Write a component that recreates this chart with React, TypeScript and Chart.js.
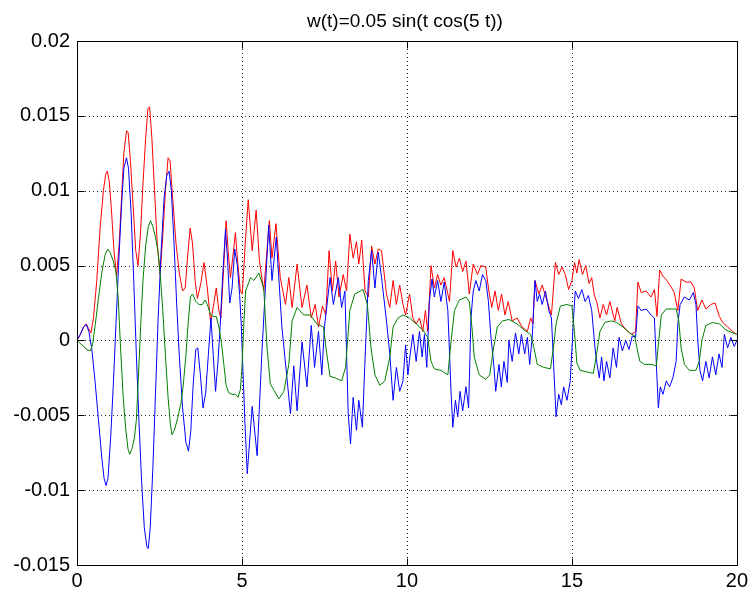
import React, { useEffect, useRef } from 'react';
import { Chart, registerables } from 'chart.js';

Chart.register(...registerables);

const TITLE = 'w(t)=0.05 sin(t cos(5 t))';
const X_TICKS = [0, 5, 10, 15, 20];
const Y_TICKS = [-0.015, -0.01, -0.005, 0, 0.005, 0.01, 0.015, 0.02];
const UNIT = 0.001; // values below are in thousandths

const redT = [0, 0.1, 0.2, 0.28, 0.35, 0.42, 0.5, 0.6, 0.7, 0.8, 0.87, 0.92, 0.98, 1.05, 1.12, 1.2, 1.28, 1.35, 1.42, 1.5, 1.55, 1.62, 1.7, 1.78, 1.85, 1.92, 2.0, 2.08, 2.15, 2.2, 2.27, 2.35, 2.43, 2.52, 2.6, 2.68, 2.76, 2.82, 2.9, 3.0, 3.1, 3.2, 3.28, 3.35, 3.43, 3.5, 3.58, 3.65, 3.75, 3.85, 3.95, 4.05, 4.15, 4.22, 4.3, 4.36, 4.45, 4.52, 4.58, 4.65, 4.72, 4.8, 4.88, 4.95, 5.01, 5.1, 5.19, 5.31, 5.43, 5.53, 5.66, 5.83, 5.91, 6.03, 6.16, 6.32, 6.42, 6.52, 6.67, 6.82, 6.97, 7.1, 7.22, 7.32, 7.44, 7.54, 7.64, 7.74, 7.84, 7.94, 8.07, 8.17, 8.27, 8.37, 8.47, 8.54, 8.63, 8.73, 8.83, 8.93, 9.03, 9.13, 9.23, 9.38, 9.48, 9.58, 9.68, 9.78, 9.88, 9.96, 10.08, 10.18, 10.28, 10.38, 10.48, 10.56, 10.63, 10.73, 10.83, 10.93, 11.03, 11.13, 11.29, 11.39, 11.49, 11.59, 11.69, 11.79, 11.89, 12.01, 12.14, 12.24, 12.39, 12.47, 12.57, 12.67, 12.77, 12.87, 12.97, 13.07, 13.19, 13.34, 13.49, 13.65, 13.75, 13.82, 13.88, 14.0, 14.1, 14.25, 14.38, 14.5, 14.6, 14.7, 14.8, 14.9, 15.0, 15.08, 15.15, 15.22, 15.32, 15.42, 15.52, 15.6, 15.68, 15.75, 15.85, 15.95, 16.05, 16.15, 16.3, 16.37, 16.5, 16.65, 16.8, 16.93, 17.0, 17.1, 17.25, 17.4, 17.5, 17.58, 17.66, 17.76, 17.88, 18.0, 18.1, 18.21, 18.31, 18.46, 18.61, 18.71, 18.81, 18.94, 19.06, 19.21, 19.34, 19.47, 19.57, 19.72, 19.87, 20.0];
const redV = [0, 0.4, 0.9, 1.1, 0.8, 0.5, 1.5, 4.0, 7.5, 10.0, 11.1, 11.3, 10.6, 8.5, 6.0, 4.3, 6.5, 9.5, 12.5, 14.0, 13.9, 12.0, 9.0, 6.0, 5.0, 7.0, 10.5, 13.5, 15.5, 15.6, 13.5, 10.0, 6.5, 4.4, 7.0, 10.0, 12.2, 12.0, 9.5, 6.5, 4.5, 3.3, 3.5, 5.5, 7.5, 6.5, 4.0, 2.8, 3.8, 5.2, 3.5, 1.2, 2.5, 3.5, 2.0, 1.5, 5.0, 8.0, 6.0, 4.2, 5.5, 7.2, 5.0, 3.3, 3.1, 6.5, 9.4, 6.0, 8.7, 5.3, 3.3, 8.0, 5.5, 7.8, 4.2, 2.4, 4.2, 2.2, 5.1, 2.2, 3.7, 1.5, 2.4, 0.9, 2.3, 1.7, 6.0, 3.3, 5.3, 2.9, 4.4, 3.3, 7.1, 5.5, 6.6, 5.1, 6.7, 3.3, 2.9, 6.3, 5.1, 6.1, 6.0, 3.1, 2.2, 4.0, 2.4, 3.7, 2.4, 1.7, 3.1, 1.5, 1.1, 1.5, 0.6, 2.0, 0.6, 5.0, 3.5, 4.4, 3.7, 4.2, 2.6, 6.0, 4.9, 5.5, 4.6, 5.3, 3.1, 5.1, 4.4, 5.0, 4.9, 3.5, 2.2, 3.3, 2.0, 3.1, 1.7, 2.6, 1.3, 1.5, 0.9, 0.6, 1.5, 1.1, 4.0, 3.1, 3.7, 2.6, 1.7, 5.2, 4.4, 4.9, 4.4, 3.4, 4.0, 5.2, 4.5, 5.4, 4.4, 5.0, 3.8, 4.2, 3.0, 2.6, 1.5, 2.4, 1.7, 2.6, 1.3, 2.2, 1.1, 0.7, 0.4, 0.6, 3.9, 3.2, 3.3, 2.9, 3.4, 1.6, 4.7, 4.3, 4.0, 3.6, 3.2, 2.0, 4.1, 3.9, 3.9, 3.5, 2.0, 2.7, 2.1, 2.4, 2.5, 1.6, 1.2, 0.9, 0.6, 0.4];

const blueT = [0, 0.1, 0.2, 0.28, 0.36, 0.45, 0.55, 0.65, 0.75, 0.82, 0.88, 0.94, 1.02, 1.1, 1.18, 1.26, 1.35, 1.42, 1.5, 1.56, 1.64, 1.72, 1.8, 1.88, 1.96, 2.04, 2.12, 2.16, 2.22, 2.3, 2.38, 2.46, 2.55, 2.64, 2.72, 2.79, 2.86, 2.94, 3.02, 3.1, 3.2, 3.3, 3.38, 3.45, 3.52, 3.6, 3.66, 3.74, 3.82, 3.9, 3.98, 4.06, 4.13, 4.2, 4.27, 4.34, 4.42, 4.5, 4.56, 4.63, 4.7, 4.78, 4.86, 4.93, 4.98, 5.02, 5.09, 5.16, 5.31, 5.46, 5.6, 5.81, 5.91, 6.04, 6.21, 6.47, 6.57, 6.67, 6.82, 6.97, 7.1, 7.2, 7.32, 7.42, 7.5, 7.67, 7.77, 7.92, 8.02, 8.12, 8.22, 8.29, 8.37, 8.47, 8.54, 8.65, 8.72, 8.83, 8.93, 9.03, 9.13, 9.23, 9.38, 9.48, 9.58, 9.68, 9.78, 9.88, 9.96, 10.03, 10.1, 10.18, 10.28, 10.38, 10.46, 10.53, 10.6, 10.68, 10.76, 10.83, 10.93, 11.03, 11.13, 11.24, 11.34, 11.39, 11.47, 11.54, 11.61, 11.69, 11.79, 11.87, 11.94, 12.01, 12.09, 12.19, 12.29, 12.39, 12.47, 12.54, 12.64, 12.69, 12.79, 12.86, 12.94, 13.04, 13.09, 13.19, 13.29, 13.39, 13.47, 13.57, 13.65, 13.72, 13.8, 13.88, 13.95, 14.02, 14.1, 14.2, 14.3, 14.38, 14.45, 14.52, 14.6, 14.68, 14.75, 14.85, 14.95, 15.05, 15.1, 15.2, 15.3, 15.4, 15.5, 15.6, 15.7, 15.75, 15.83, 15.9, 15.97, 16.05, 16.15, 16.25, 16.35, 16.43, 16.53, 16.63, 16.73, 16.83, 16.93, 17.0, 17.1, 17.25, 17.4, 17.5, 17.56, 17.62, 17.68, 17.76, 17.86, 17.96, 18.06, 18.16, 18.21, 18.28, 18.41, 18.56, 18.68, 18.76, 18.81, 18.88, 18.96, 19.06, 19.16, 19.26, 19.36, 19.46, 19.55, 19.62, 19.72, 19.82, 19.92, 20.0];
const blueV = [0, 0.4, 0.9, 1.07, 0.6, -0.6, -2.8, -5.3, -7.8, -9.2, -9.7, -9.2, -6.5, -3.0, 1.0, 5.0, 9.0, 11.5, 12.2, 11.5, 8.5, 4.0, -1.0, -5.5, -9.5, -12.5, -13.8, -13.9, -12.5, -8.5, -3.5, 1.5, 6.0, 9.5, 11.0, 11.3, 10.0, 6.5, 2.5, -1.0, -4.5, -6.8, -7.4, -6.0, -3.0, -0.6, -0.5, -2.3, -4.5, -3.5, -1.0, 1.5, -1.0, -3.4, -1.5, 1.0, 4.5, 7.4, 5.5, 2.5, 3.5, 6.1, 5.0, 3.0, 1.0, -1.5, -5.5, -8.9, -4.4, -7.7, -1.0, 7.7, 4.0, 6.9, 0.9, -4.9, -1.7, -4.7, -0.1, -3.1, 1.0, -1.8, 0.6, -2.3, 0.9, 4.2, 2.4, 4.2, 2.2, 3.3, -4.9, -6.9, -3.8, -6.0, -4.0, -5.8, -1.8, 4.0, 6.0, 3.5, 5.9, 4.2, 1.3, -0.9, -4.0, -1.8, -3.4, -2.7, -0.3, -2.3, -0.9, 0.4, -1.4, 0.6, -1.1, 0.4, -1.8, 2.6, 4.1, 2.9, 4.0, 2.6, 3.9, 2.0, -3.6, -5.8, -4.0, -5.1, -3.4, -4.7, -3.1, -4.5, 1.5, 3.3, 4.0, 3.3, 4.4, 4.0, 2.6, 0.4, -1.8, -3.4, -1.6, -3.1, -1.4, -2.8, 0, -1.4, 0.5, -0.9, 0.4, -0.9, 0.2, -1.6, 0.3, 4.0, 2.6, 3.1, 2.4, 3.3, 2.0, 1.5, -1.8, -5.1, -3.6, -4.3, -3.1, -4.0, -2.7, 1.5, 3.3, 2.8, 3.4, 2.6, 3.0, 2.0, -0.5, -1.4, -2.5, -1.1, -2.7, -1.4, -2.5, -0.5, -1.8, 0.2, -0.7, 0, -0.6, 0.3, 0.2, 2.3, 2.0, 2.1, 1.7, 1.5, -1.6, -4.5, -3.1, -3.6, -2.7, -3.1, -2.5, -1.4, 1.1, 2.4, 2.9, 2.7, 3.2, 2.4, 0.2, -2.0, -2.7, -1.4, -2.5, -1.1, -2.3, -0.9, -1.8, 0.4, -0.5, 0.2, -0.4, 0];

const greenT = [0, 0.15, 0.3, 0.4, 0.47, 0.55, 0.65, 0.75, 0.85, 0.93, 1.0, 1.1, 1.18, 1.25, 1.32, 1.4, 1.48, 1.55, 1.6, 1.67, 1.74, 1.8, 1.86, 1.93, 2.0, 2.08, 2.16, 2.23, 2.3, 2.38, 2.45, 2.52, 2.6, 2.68, 2.76, 2.83, 2.88, 2.95, 3.05, 3.15, 3.22, 3.3, 3.37, 3.44, 3.5, 3.6, 3.7, 3.8, 3.88, 3.95, 4.05, 4.15, 4.22, 4.3, 4.38, 4.45, 4.52, 4.6, 4.7, 4.8, 4.88, 4.95, 5.0, 5.05, 5.11, 5.26, 5.36, 5.51, 5.66, 5.76, 5.86, 5.96, 6.12, 6.27, 6.42, 6.52, 6.67, 6.87, 7.07, 7.27, 7.47, 7.57, 7.67, 7.82, 8.02, 8.14, 8.27, 8.42, 8.67, 8.8, 8.91, 9.03, 9.18, 9.33, 9.48, 9.58, 9.73, 9.88, 10.08, 10.28, 10.48, 10.63, 10.73, 10.83, 11.03, 11.24, 11.34, 11.44, 11.59, 11.79, 11.89, 11.97, 12.04, 12.19, 12.39, 12.51, 12.61, 12.74, 12.89, 13.09, 13.34, 13.55, 13.75, 13.85, 13.95, 14.15, 14.35, 14.45, 14.52, 14.65, 14.85, 15.0, 15.08, 15.15, 15.25, 15.45, 15.65, 15.75, 15.85, 16.0, 16.2, 16.35, 16.55, 16.75, 16.9, 16.97, 17.06, 17.2, 17.4, 17.56, 17.61, 17.71, 17.86, 18.06, 18.16, 18.24, 18.31, 18.41, 18.56, 18.76, 18.86, 18.94, 19.06, 19.26, 19.47, 19.67, 20.0];
const greenV = [0, -0.3, -0.6, -0.7, -0.3, 1.0, 2.8, 4.5, 5.7, 6.1, 5.9, 5.3, 4.6, 2.8, -0.5, -3.8, -6.0, -7.3, -7.6, -7.2, -6.5, -5.3, -2.5, 1.0, 4.0, 6.3, 7.6, 8.0, 7.6, 6.9, 6.0, 4.5, 2.0, -1.0, -3.8, -5.6, -6.3, -6.0, -5.2, -4.2, -3.0, -1.0, 1.2, 2.9, 3.1, 2.6, 2.4, 2.4, 2.7, 2.4, 1.7, 1.6, 1.6, 0.9, -0.2, -1.6, -3.0, -3.5, -3.6, -3.6, -3.8, -3.3, -1.8, 0.8, 3.3, 4.2, 4.0, 4.5, 3.5, -0.5, -2.9, -3.3, -3.9, -3.4, -1.6, 1.3, 2.2, 1.7, 1.7, 1.1, 0.9, -0.9, -2.4, -2.5, -2.7, -1.8, 2.0, 3.1, 3.4, 2.4, -0.5, -2.3, -3.0, -2.7, -1.1, 0.9, 1.5, 1.7, 1.5, 1.1, 0.7, 0.2, -1.4, -1.9, -2.0, -2.3, 0, 2.0, 2.7, 2.9, 2.6, 0.9, -1.1, -2.3, -2.6, -2.3, -0.7, 0.9, 1.3, 1.4, 1.1, 0.7, 0.4, -0.5, -1.6, -1.8, -1.9, -0.3, 1.1, 2.3, 2.4, 2.3, 0.5, -1.5, -2.0, -2.1, -2.2, -0.9, 0.6, 1.2, 1.3, 1.2, 0.9, 0.5, 0.3, -0.5, -1.4, -1.6, -1.6, -1.7, -0.5, 1.7, 2.1, 2.1, 2.1, 1.3, -0.5, -1.6, -2.0, -2.0, -1.4, 0, 1.0, 1.2, 1.1, 0.7, 0.4];

const FONT = '"Liberation Sans", Arial, Helvetica, sans-serif';

const toPoints = (ts: number[], vs: number[]) => ts.map((t, i) => ({ x: t, y: vs[i] * UNIT }));
const fmt = (v: number) => String(Number(Number(v).toFixed(4)));

const matlabAxes = {
  id: 'matlabAxes',
  beforeDatasetsDraw(chart: any) {
    const { ctx, chartArea: a, scales } = chart;
    ctx.save();
    ctx.strokeStyle = '#222';
    ctx.lineWidth = 1;
    ctx.setLineDash([1, 3]);
    for (const v of X_TICKS) {
      const px = Math.round(scales.x.getPixelForValue(v)) + 0.5;
      if (px <= a.left + 1 || px >= a.right - 1) continue;
      ctx.beginPath();
      ctx.moveTo(px, a.top);
      ctx.lineTo(px, a.bottom);
      ctx.stroke();
    }
    for (const v of Y_TICKS) {
      const py = Math.round(scales.y.getPixelForValue(v)) + 0.5;
      if (py <= a.top + 1 || py >= a.bottom - 1) continue;
      ctx.beginPath();
      ctx.moveTo(a.left, py);
      ctx.lineTo(a.right, py);
      ctx.stroke();
    }
    ctx.restore();
  },
  afterDatasetsDraw(chart: any) {
    const { ctx, chartArea: a, scales } = chart;
    ctx.save();
    ctx.setLineDash([]);
    ctx.strokeStyle = '#000';
    ctx.lineWidth = 1;
    const L = Math.round(a.left) + 0.5;
    const R = Math.round(a.right) + 0.5;
    const T = Math.round(a.top) + 0.5;
    const B = Math.round(a.bottom) + 0.5;
    ctx.strokeRect(L, T, R - L, B - T);
    const tl = 7;
    ctx.beginPath();
    for (const v of X_TICKS) {
      const px = Math.round(scales.x.getPixelForValue(v)) + 0.5;
      ctx.moveTo(px, B); ctx.lineTo(px, B - tl);
      ctx.moveTo(px, T); ctx.lineTo(px, T + tl);
    }
    for (const v of Y_TICKS) {
      const py = Math.round(scales.y.getPixelForValue(v)) + 0.5;
      ctx.moveTo(L, py); ctx.lineTo(L + tl, py);
      ctx.moveTo(R, py); ctx.lineTo(R - tl, py);
    }
    ctx.stroke();
    ctx.fillStyle = '#000';
    ctx.font = `19px ${FONT}`;
    ctx.textAlign = 'center';
    ctx.textBaseline = 'alphabetic';
    ctx.fillText(TITLE, (a.left + a.right) / 2 - 2, 27);
    ctx.restore();
  },
};

export default function App() {
  const ref = useRef<HTMLCanvasElement | null>(null);
  useEffect(() => {
    if (!ref.current) return;
    const chart = new Chart(ref.current, {
      type: 'line',
      data: {
        datasets: [
          { data: toPoints(greenT, greenV), borderColor: '#008000', borderWidth: 1, pointRadius: 0, tension: 0, fill: false },
          { data: toPoints(blueT, blueV), borderColor: '#0000ff', borderWidth: 1, pointRadius: 0, tension: 0, fill: false },
          { data: toPoints(redT, redV), borderColor: '#ff0000', borderWidth: 1, pointRadius: 0, tension: 0, fill: false },
        ],
      },
      options: {
        animation: false,
        responsive: false,
        devicePixelRatio: 1,
        events: [],
        layout: { padding: { top: 41, right: 11, left: 0, bottom: 0 } },
        plugins: { legend: { display: false }, tooltip: { enabled: false }, title: { display: false } },
        scales: {
          x: {
            type: 'linear',
            min: 0,
            max: 20,
            afterBuildTicks: (s: any) => { s.ticks = X_TICKS.map((v) => ({ value: v })); },
            afterFit: (s: any) => { s.height = 29; },
            grid: { display: false, drawTicks: false },
            border: { display: false },
            ticks: { padding: 4, color: '#000', font: { family: FONT, size: 20 }, maxRotation: 0, callback: (v: any) => fmt(v) },
          },
          y: {
            type: 'linear',
            min: -0.015,
            max: 0.02,
            afterBuildTicks: (s: any) => { s.ticks = Y_TICKS.map((v) => ({ value: v })); },
            afterFit: (s: any) => { s.width = 77; },
            grid: { display: false, drawTicks: false },
            border: { display: false },
            ticks: { padding: 7, color: '#000', font: { family: FONT, size: 20 }, callback: (v: any) => fmt(v) },
          },
        },
      },
      plugins: [matlabAxes],
    } as any);
    return () => chart.destroy();
  }, []);
  return (
    <div style={{ position: 'absolute', left: 0, top: 0, width: 752, height: 594, background: '#fff' }}>
      <canvas ref={ref} width={752} height={594} style={{ display: 'block' }} />
    </div>
  );
}
